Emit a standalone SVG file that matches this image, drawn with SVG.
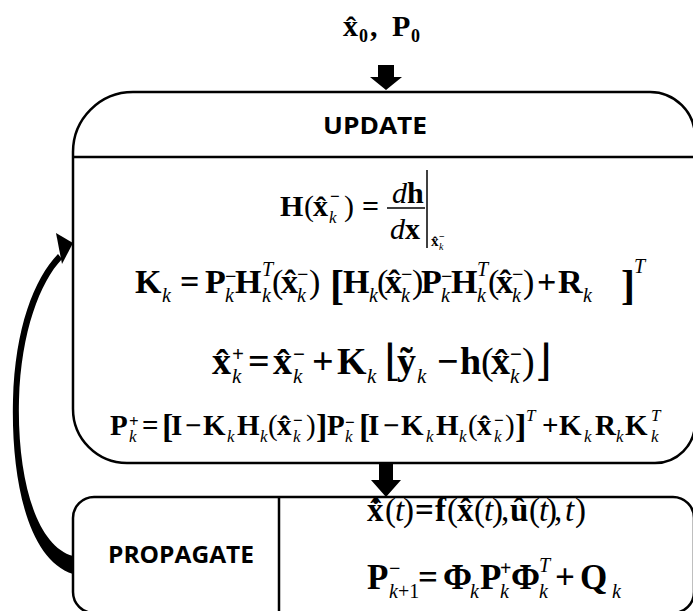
<svg xmlns="http://www.w3.org/2000/svg" width="693" height="611" viewBox="0 0 693 611">
<style>
.box{fill:none;stroke:#000;stroke-width:2.5}
.ln{stroke:#000;stroke-width:2.5}
.thin{stroke:#000;stroke-width:1.5}
.e{font-family:"Liberation Serif","Times New Roman",serif;font-weight:bold;fill:#000}
.i{font-style:italic;font-weight:normal}
.n{font-weight:normal}
.fl{font-family:"DejaVu Serif",serif;font-weight:normal}
.lab{font-family:"Open Sans","Noto Sans",sans-serif;font-weight:bold;fill:#000}
.arr{fill:#000}
</style>
<rect width="693" height="611" fill="#fff"/>

<g id="init">
<text class="e" font-size="30"><tspan x="343" y="36">x&#x302;</tspan><tspan x="359" y="42" font-size="18">0</tspan><tspan x="370" y="36">,</tspan><tspan x="392" y="36">P</tspan><tspan x="411" y="42" font-size="18">0</tspan></text>
</g>

<g id="update">
<path class="box" d="M133,92 H650 A45,45 0 0 1 695,137 V423 A40,40 0 0 1 655,463 H127 A54,54 0 0 1 73,409 V152 A60,60 0 0 1 133,92 Z"/>
<line class="ln" x1="73" y1="157" x2="693" y2="157"/>
<text class="lab" x="323" y="134" font-size="24" textLength="104" lengthAdjust="spacingAndGlyphs">UPDATE</text>

<text class="e" font-size="30">
<tspan x="280" y="216">H</tspan>
<tspan class="n" x="304" y="216">(</tspan>
<tspan x="313" y="216">x&#x302;</tspan>
<tspan class="i" x="329" y="223" font-size="17">k</tspan>
<tspan x="330" y="202" font-size="17">−</tspan>
<tspan class="n" x="344" y="216">)</tspan>
<tspan x="362" y="216">=</tspan>
<tspan class="i" x="392" y="203">d</tspan>
<tspan x="407" y="203">h</tspan>
<tspan class="i" x="390" y="239">d</tspan>
<tspan x="405" y="239">x</tspan>
<tspan x="431" y="246" font-size="15">x&#x302;</tspan>
<tspan class="i" x="439" y="250" font-size="10">k</tspan>
<tspan x="439" y="240" font-size="10">−</tspan>
</text>
<line class="thin" x1="387" y1="208" x2="425" y2="208"/>
<line class="thin" x1="427" y1="170" x2="427" y2="248"/>

<text class="e" font-size="34">
<tspan x="135" y="293">K</tspan>
<tspan class="i" x="162" y="302" font-size="20">k</tspan>
<tspan x="180" y="293">=</tspan>
<tspan x="205" y="293">P</tspan>
<tspan class="i" x="225" y="302" font-size="20">k</tspan>
<tspan x="225" y="283" font-size="20">−</tspan>
<tspan x="235" y="293">H</tspan>
<tspan class="i" x="262" y="276" font-size="20">T</tspan>
<tspan class="i" x="262" y="302" font-size="20">k</tspan>
<tspan class="n" x="272" y="293">(</tspan>
<tspan x="281" y="293">x&#x302;</tspan>
<tspan class="i" x="297" y="302" font-size="20">k</tspan>
<tspan x="297" y="281" font-size="20">−</tspan>
<tspan class="n" x="309" y="293">)</tspan>
<tspan x="330" y="299" font-size="42">[</tspan>
<tspan x="343" y="293">H</tspan>
<tspan class="i" x="369" y="302" font-size="20">k</tspan>
<tspan class="n" x="377" y="293">(</tspan>
<tspan x="385" y="293">x&#x302;</tspan>
<tspan class="i" x="401" y="302" font-size="20">k</tspan>
<tspan x="401" y="281" font-size="20">−</tspan>
<tspan class="n" x="412" y="293">)</tspan>
<tspan x="421" y="293">P</tspan>
<tspan class="i" x="441" y="302" font-size="20">k</tspan>
<tspan x="441" y="283" font-size="20">−</tspan>
<tspan x="451" y="293">H</tspan>
<tspan class="i" x="477" y="276" font-size="20">T</tspan>
<tspan class="i" x="477" y="302" font-size="20">k</tspan>
<tspan class="n" x="488" y="293">(</tspan>
<tspan x="496" y="293">x&#x302;</tspan>
<tspan class="i" x="512" y="302" font-size="20">k</tspan>
<tspan x="512" y="281" font-size="20">−</tspan>
<tspan class="n" x="523" y="293">)</tspan>
<tspan x="537" y="293">+</tspan>
<tspan x="558" y="293">R</tspan>
<tspan class="i" x="583" y="302" font-size="20">k</tspan>
<tspan x="621" y="299" font-size="42">]</tspan>
<tspan class="i" x="634" y="273" font-size="20">T</tspan>
</text>

<text class="e" font-size="38">
<tspan x="212" y="374">x&#x302;</tspan>
<tspan x="232" y="361" font-size="21">+</tspan>
<tspan class="i" x="232" y="383" font-size="21">k</tspan>
<tspan x="248" y="374">=</tspan>
<tspan x="273" y="374">x&#x302;</tspan>
<tspan x="293" y="361" font-size="21">−</tspan>
<tspan class="i" x="293" y="383" font-size="21">k</tspan>
<tspan x="312" y="374">+</tspan>
<tspan x="337" y="374">K</tspan>
<tspan class="i" x="367" y="383" font-size="21">k</tspan>
<tspan class="fl" x="384" y="375" font-size="43">⌊</tspan>
<tspan x="397" y="374">y&#x303;</tspan>
<tspan class="i" x="417" y="383" font-size="21">k</tspan>
<tspan x="437" y="374">−</tspan>
<tspan x="460" y="374">h</tspan>
<tspan class="n" x="481" y="374">(</tspan>
<tspan x="491" y="374">x&#x302;</tspan>
<tspan class="i" x="510" y="383" font-size="21">k</tspan>
<tspan x="510" y="361" font-size="21">−</tspan>
<tspan class="n" x="522" y="374">)</tspan>
<tspan class="fl" x="535" y="375" font-size="43">⌋</tspan>
</text>

<text class="e" font-size="29">
<tspan x="110" y="435">P</tspan>
<tspan x="129" y="427" font-size="17">+</tspan>
<tspan class="i" x="129" y="442" font-size="17">k</tspan>
<tspan x="142" y="435">=</tspan>
<tspan x="162" y="438" font-size="34">[</tspan>
<tspan x="171" y="435">I</tspan>
<tspan x="185" y="435">−</tspan>
<tspan x="203" y="435">K</tspan>
<tspan class="i" x="227" y="442" font-size="17">k</tspan>
<tspan x="237" y="435">H</tspan>
<tspan class="i" x="260" y="442" font-size="17">k</tspan>
<tspan class="n" x="268" y="435">(</tspan>
<tspan x="277" y="435">x&#x302;</tspan>
<tspan class="i" x="293" y="442" font-size="17">k</tspan>
<tspan x="293" y="426" font-size="17">−</tspan>
<tspan class="n" x="306" y="435">)</tspan>
<tspan x="316" y="438" font-size="34">]</tspan>
<tspan x="327" y="435">P</tspan>
<tspan class="i" x="345" y="442" font-size="17">k</tspan>
<tspan x="345" y="428" font-size="17">−</tspan>
<tspan x="359" y="438" font-size="34">[</tspan>
<tspan x="368" y="435">I</tspan>
<tspan x="383" y="435">−</tspan>
<tspan x="401" y="435">K</tspan>
<tspan class="i" x="426" y="442" font-size="17">k</tspan>
<tspan x="436" y="435">H</tspan>
<tspan class="i" x="459" y="442" font-size="17">k</tspan>
<tspan class="n" x="468" y="435">(</tspan>
<tspan x="477" y="435">x&#x302;</tspan>
<tspan class="i" x="494" y="442" font-size="17">k</tspan>
<tspan x="494" y="426" font-size="17">−</tspan>
<tspan class="n" x="505" y="435">)</tspan>
<tspan x="515" y="438" font-size="34">]</tspan>
<tspan class="i" x="526" y="421" font-size="17">T</tspan>
<tspan x="542" y="435">+</tspan>
<tspan x="559" y="435">K</tspan>
<tspan class="i" x="584" y="442" font-size="17">k</tspan>
<tspan x="595" y="435">R</tspan>
<tspan class="i" x="616" y="442" font-size="17">k</tspan>
<tspan x="625" y="435">K</tspan>
<tspan class="i" x="651" y="421" font-size="17">T</tspan>
<tspan class="i" x="651" y="442" font-size="17">k</tspan>
</text>
</g>

<g id="propagate">
<rect class="box" x="73" y="497" width="621" height="116" rx="21"/>
<line class="ln" x1="279" y1="497" x2="279" y2="611"/>
<text class="lab" x="108" y="563" font-size="24" textLength="146" lengthAdjust="spacingAndGlyphs">PROPAGATE</text>

<text class="e" font-size="33">
<tspan x="367" y="521">x&#x302;&#x307;</tspan>
<tspan class="n" x="385" y="521">(</tspan>
<tspan class="i" x="395" y="521">t</tspan>
<tspan class="n" x="403" y="521">)</tspan>
<tspan x="415" y="521">=</tspan>
<tspan x="435" y="521">f</tspan>
<tspan class="n" x="447" y="521">(</tspan>
<tspan x="457" y="521">x&#x302;</tspan>
<tspan class="n" x="474" y="521">(</tspan>
<tspan class="i" x="484" y="521">t</tspan>
<tspan class="n" x="492" y="521">)</tspan>
<tspan class="n" x="501" y="521">,</tspan>
<tspan x="510" y="521">u&#x302;</tspan>
<tspan class="n" x="529" y="521">(</tspan>
<tspan class="i" x="539" y="521">t</tspan>
<tspan class="n" x="546" y="521">)</tspan>
<tspan class="n" x="554" y="521">,</tspan>
<tspan class="i" x="565" y="521">t</tspan>
<tspan class="n" x="575" y="521">)</tspan>
</text>

<text class="e" font-size="35">
<tspan x="367" y="589">P</tspan>
<tspan x="389" y="575" font-size="20">−</tspan>
<tspan class="i" x="389" y="598" font-size="20">k</tspan>
<tspan class="n" x="398" y="598" font-size="20">+1</tspan>
<tspan x="418" y="589">=</tspan>
<tspan x="443" y="589">Φ</tspan>
<tspan class="i" x="470" y="598" font-size="20">k</tspan>
<tspan x="480" y="589">P</tspan>
<tspan x="500" y="575" font-size="20">+</tspan>
<tspan class="i" x="500" y="598" font-size="20">k</tspan>
<tspan x="511" y="589">Φ</tspan>
<tspan class="i" x="539" y="572" font-size="20">T</tspan>
<tspan class="i" x="539" y="598" font-size="20">k</tspan>
<tspan x="555" y="589">+</tspan>
<tspan x="580" y="589">Q</tspan>
<tspan class="i" x="612" y="598" font-size="20">k</tspan>
</text>
</g>

<g id="connectors">
<polygon class="arr" points="378,65 394,65 394,77 402,77 386,90 370,77 378,77"/>
<polygon class="arr" points="379,463 393,463 393,480 401,480 386,497 371,480 379,480"/>
<path class="arr" d="M73,574 C28,560 11,480 13,400 C15,328 34,279 58,254 L62,259 C40,282 21,332 19,400 C17,478 36,546 73,556 Z"/>
<polygon class="arr" points="56,233 73,243 62,264"/>
</g>
</svg>
